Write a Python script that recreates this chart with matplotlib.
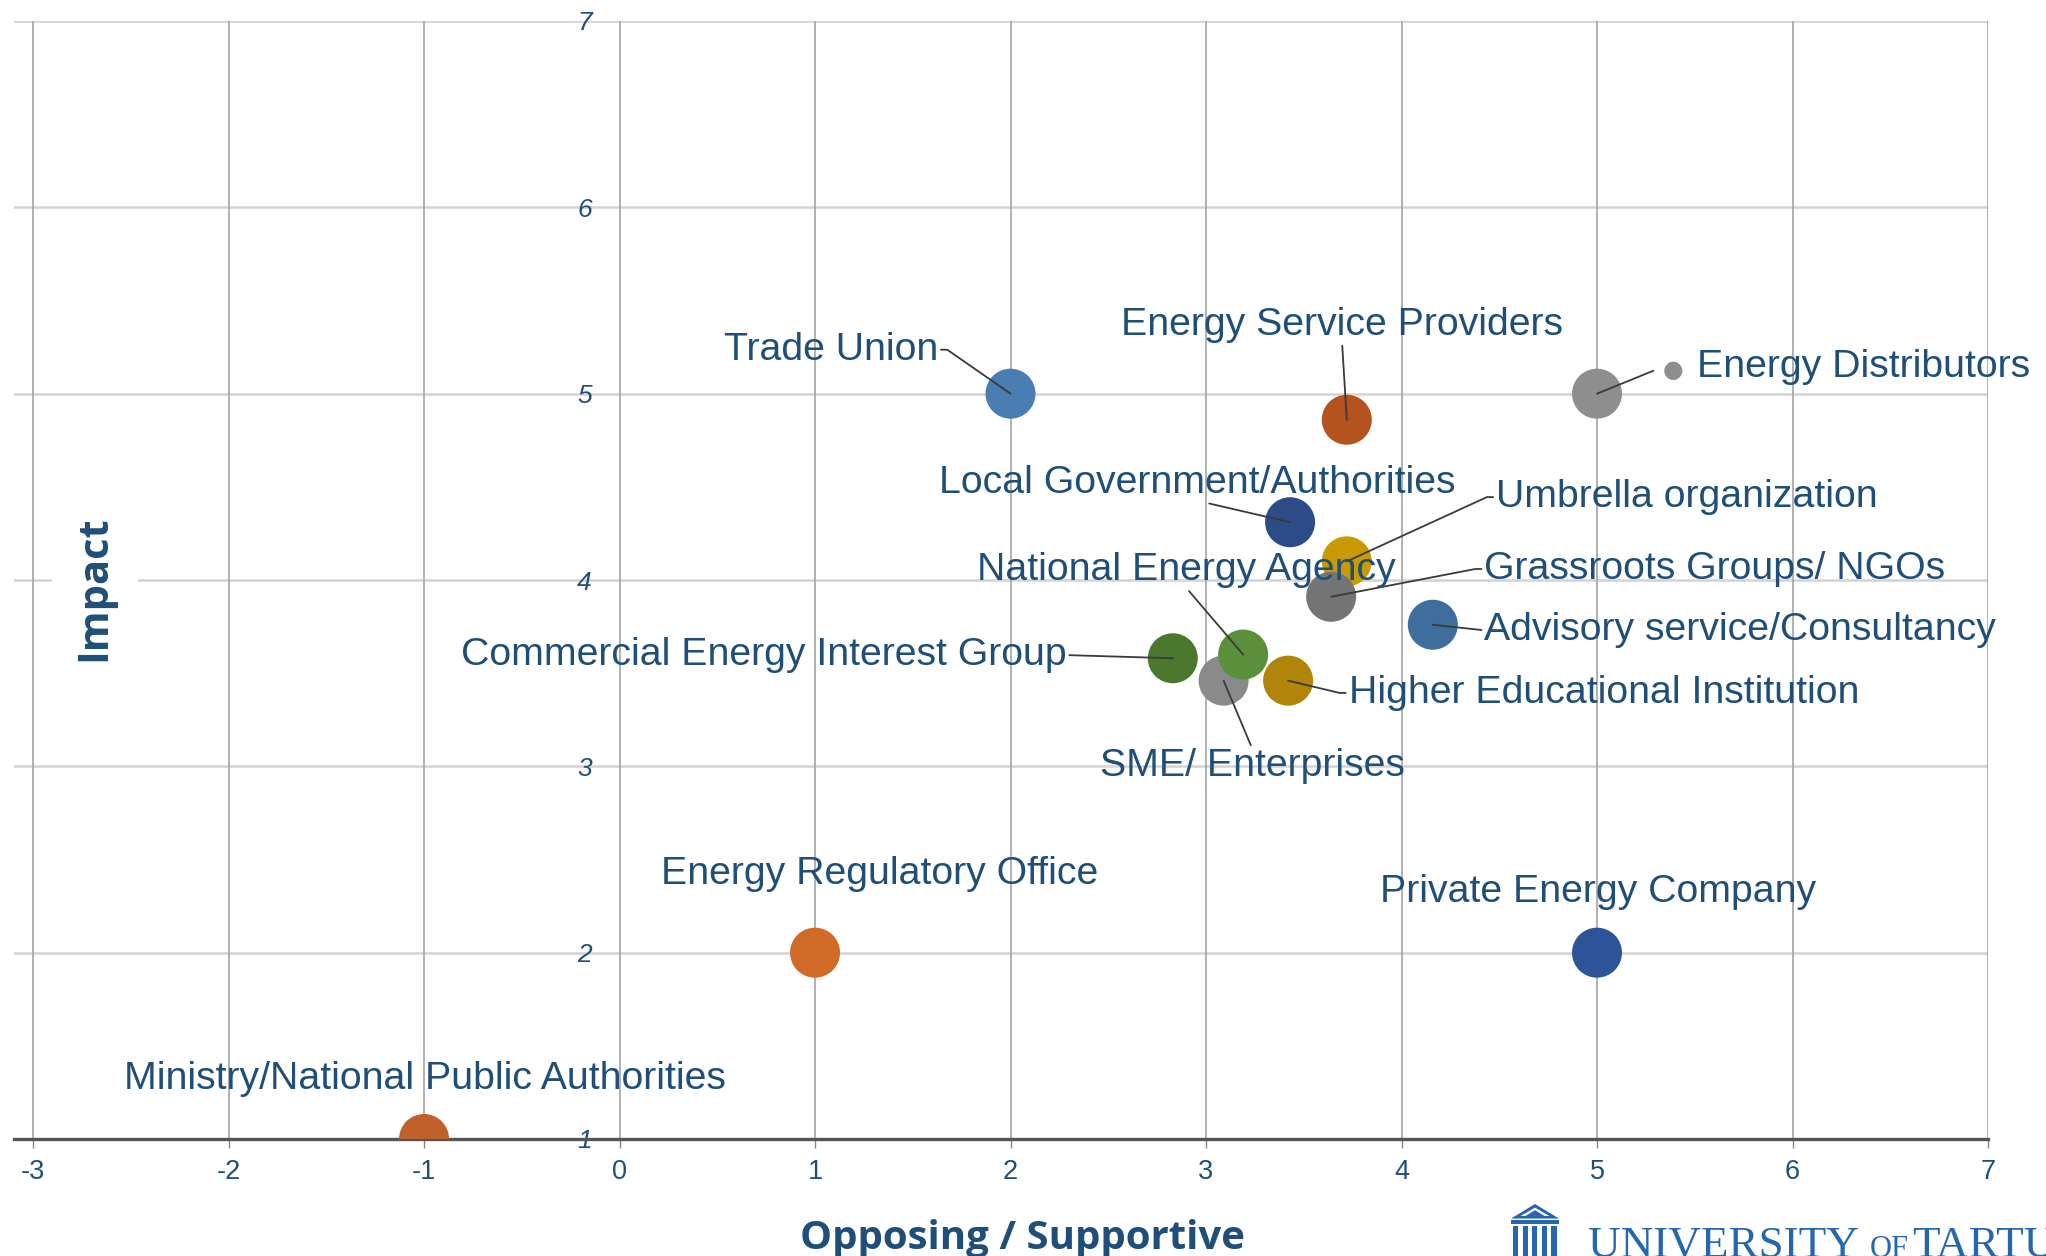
import matplotlib
matplotlib.use("Agg")
import matplotlib.pyplot as plt
from matplotlib.patches import Polygon, Rectangle

plt.rcParams['font.family'] = ['Liberation Sans', 'DejaVu Sans']
plt.rcParams['axes.unicode_minus'] = False

# ---------------- data ----------------
stakeholders = [
    "Trade Union", "Energy Service Providers", "Energy Distributors",
    "Local Government/Authorities", "Umbrella organization",
    "Grassroots Groups/ NGOs", "Advisory service/Consultancy",
    "SME/ Enterprises", "National Energy Agency",
    "Commercial Energy Interest Group", "Higher Educational Institution",
    "Energy Regulatory Office", "Private Energy Company",
    "Ministry/National Public Authorities",
]
support = [2.0, 3.72, 5.0, 3.43, 3.72, 3.64, 4.16, 3.09, 3.19, 2.83, 3.42, 1.0, 5.0, -1.0]
impact = [5.0, 4.86, 5.0, 4.31, 4.10, 3.91, 3.76, 3.46, 3.60, 3.58, 3.46, 2.0, 2.0, 1.0]
colors = ["#4a7eb3", "#b3531d", "#8e8e8e", "#2c4b87", "#c99a04", "#747474",
          "#3f6e9d", "#8a8a8a", "#5b8f3b", "#4b782c", "#b0850a", "#cf6b27",
          "#2d5499", "#c0602a"]
x_ticks = [-3, -2, -1, 0, 1, 2, 3, 4, 5, 6, 7]
y_ticks = [1, 2, 3, 4, 5, 6, 7]
x_label = "Opposing / Supportive"
y_label = "Impact"

# ---------------- label layout (text position, alignment, leader style) ----------------
layout = {
    "Trade Union": ((1.63, 5.236), 'right', (1, 0.5), ('arm', 0)),
    "Energy Service Providers": ((3.696, 5.369), 'center', (0.5, 0.0), 'straight'),
    "Energy Distributors": ((5.511, 5.145), 'left', None, None),
    "Local Government/Authorities": ((2.955, 4.522), 'center', (0.5, 0.0), 'straight'),
    "Umbrella organization": ((4.483, 4.445), 'left', (0, 0.5), ('arm', 180)),
    "Grassroots Groups/ NGOs": ((4.423, 4.059), 'left', (0, 0.5), ('arm', 180)),
    "Advisory service/Consultancy": ((4.423, 3.730), 'left', (0, 0.5), 'straight'),
    "SME/ Enterprises": ((3.235, 3.002), 'center', (0.5, 1.0), 'straight'),
    "National Energy Agency": ((2.901, 4.052), 'center', (0.5, 0.0), 'straight'),
    "Commercial Energy Interest Group": ((2.287, 3.597), 'right', (1, 0.5), 'straight'),
    "Higher Educational Institution": ((3.729, 3.394), 'left', (0, 0.5), ('arm', 180)),
    "Energy Regulatory Office": ((1.332, 2.421), 'center', None, None),
    "Private Energy Company": ((5.004, 2.323), 'center', None, None),
    "Ministry/National Public Authorities": ((-0.997, 1.322), 'center', None, None),
}

TEXT = "#1f4e79"
LINE = "#3a3a3a"
LABEL_SIZE = 28.3

fig = plt.figure(figsize=(20.46, 12.56), dpi=100)
L, R, B, T = 13.5 / 2046, 1988 / 2046, 1 - 1139 / 1256, 1 - 21 / 1256
ax = fig.add_axes([L, B, R - L, T - B])
ax.set_xlim(-3.1, 7)
ax.set_ylim(1, 7)

# grid
for yv in y_ticks:
    ax.axhline(yv, color="#d3d3d3", lw=1.8, zorder=0.5)
for xv in x_ticks:
    ax.axvline(xv, color="#a3a3a3", lw=1.2, zorder=1.5)

for s in ['top', 'right', 'left']:
    ax.spines[s].set_visible(False)
ax.spines['bottom'].set_color("#555555")
ax.spines['bottom'].set_linewidth(2.4)
ax.spines['bottom'].set_zorder(1.6)

narrow = ['Liberation Sans Narrow', 'Liberation Sans']
ax.set_xticks(x_ticks)
ax.set_xticklabels([str(v) for v in x_ticks])
ax.tick_params(axis='x', length=6.5, width=1, color="#888888", pad=8,
               labelsize=19.5, labelcolor=TEXT)
for t in ax.get_xticklabels():
    t.set_fontfamily(narrow)

ax.spines['left'].set_position(('data', 0))
ax.set_yticks(y_ticks)
ax.set_yticklabels([str(v) for v in y_ticks])
ax.tick_params(axis='y', length=0, pad=20, labelsize=19, labelcolor=TEXT)
for t in ax.get_yticklabels():
    t.set_fontfamily(narrow)
    t.set_fontstyle('italic')

# bubbles
ax.scatter(support, impact, s=1296, c=colors, edgecolors='none', zorder=2, clip_on=True)

# labels with leader lines
for name, x, y in zip(stakeholders, support, impact):
    (tx, ty), ha, rp, kind = layout[name]
    if kind is None:
        ax.text(tx, ty, name, ha=ha, va='center', fontsize=LABEL_SIZE, color=TEXT, zorder=4)
        continue
    if kind == 'straight':
        cs = "arc3,rad=0"
    else:
        cs = f"arc,angleA={kind[1]},armA=9,angleB=0,armB=0,rad=0"
    ax.annotate(name, xy=(x, y), xytext=(tx, ty), ha=ha, va='center',
                fontsize=LABEL_SIZE, color=TEXT, zorder=4,
                arrowprops=dict(arrowstyle='-', color=LINE, lw=1.3,
                                shrinkA=0, shrinkB=0, relpos=rp,
                                connectionstyle=cs))

# small grey dot next to "Energy Distributors"
i_ed = stakeholders.index("Energy Distributors")
ax.annotate("●", xy=(support[i_ed], impact[i_ed]), xytext=(55, 17),
            textcoords='offset points', ha='center', va='center',
            fontsize=17, color="#8e8e8e", family='DejaVu Sans', zorder=4,
            arrowprops=dict(arrowstyle='-', color=LINE, lw=1.3, shrinkA=5,
                            shrinkB=0, relpos=(0, 0.5),
                            connectionstyle="arc,angleA=180,armA=8,angleB=0,armB=0,rad=0"))

# axis titles
ax.text((95 - 13.5) / 1974.5, (1139 - 588) / 1118, y_label, transform=ax.transAxes,
        rotation=90, ha='center', va='center', fontsize=30, fontweight='bold',
        family='Open Sans', color=TEXT, zorder=1,
        bbox=dict(boxstyle='square,pad=0.55', fc='white', ec='none'))
fig.text(1022 / 2046, 1 - 1238 / 1256, x_label, ha='center', va='center',
         fontsize=29, fontweight='bold', family='Open Sans', color=TEXT)

# University of Tartu logo
LOGO = "#2566b0"
base_y = -1 / 1256
fig.text(1588 / 2046, base_y, "UNIVERSITY", ha='left', va='baseline',
         fontsize=32.5, family='Liberation Serif', color=LOGO)
fig.text(1870 / 2046, base_y, "OF", ha='left', va='baseline',
         fontsize=22, family='Liberation Serif', color=LOGO)
fig.text(1912 / 2046, base_y, "TARTU", ha='left', va='baseline',
         fontsize=32.5, family='Liberation Serif', color=LOGO)
iax = fig.add_axes([1511 / 2046, 0, 48 / 2046, 52 / 1256])
iax.set_xlim(0, 1)
iax.set_ylim(0, 1)
iax.axis('off')
iax.add_patch(Polygon([[0.0, 0.72], [0.5, 1.0], [1.0, 0.72]], closed=True, fc=LOGO, ec='none'))
iax.add_patch(Polygon([[0.2, 0.77], [0.5, 0.93], [0.8, 0.77]], closed=True, fc='white', ec='none'))
iax.add_patch(Polygon([[0.3, 0.77], [0.5, 0.88], [0.7, 0.77]], closed=True, fc=LOGO, ec='none'))
iax.add_patch(Rectangle((0.0, 0.62), 1.0, 0.07, fc=LOGO, ec='none'))
for k in range(5):
    iax.add_patch(Rectangle((0.04 + k * 0.2, 0.0), 0.11, 0.58, fc=LOGO, ec='none'))

fig.savefig("out.png", dpi=100)
